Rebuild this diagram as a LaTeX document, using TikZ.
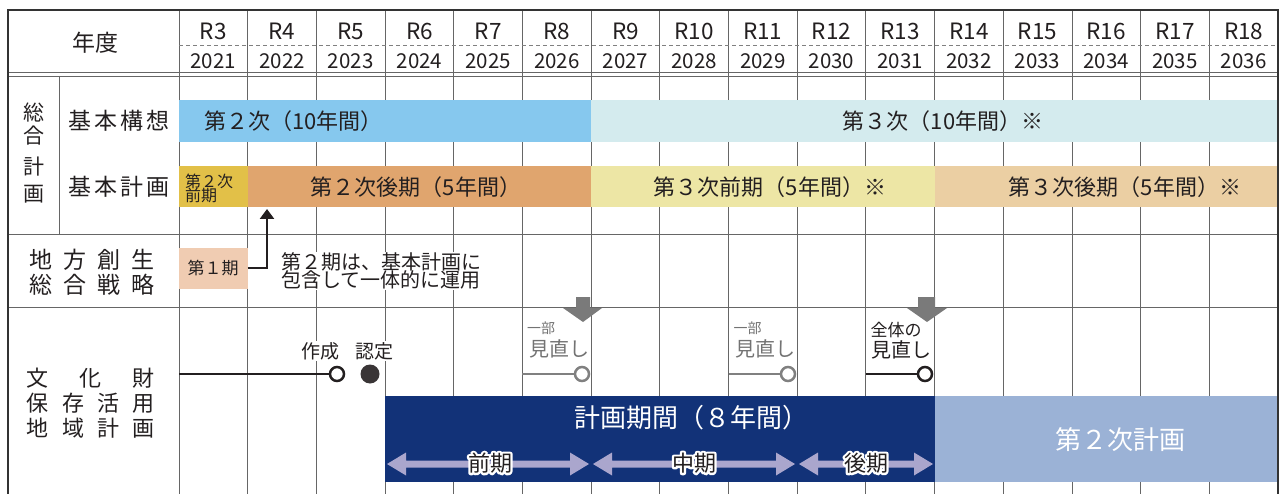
\documentclass[tikz,border=0pt]{standalone}
\usepackage{fontspec}
\setmainfont{Noto Sans CJK JP}
\usetikzlibrary{arrows.meta,calc}
\newcommand\fsz[1]{\fontsize{#1}{#1}\selectfont}
\definecolor{kihonA}{HTML}{86C8EE}
\definecolor{kihonB}{HTML}{D4EBEE}
\definecolor{keiA}{HTML}{E2C048}
\definecolor{keiB}{HTML}{E0A56E}
\definecolor{keiC}{HTML}{EDE6A5}
\definecolor{keiD}{HTML}{EBCFA3}
\definecolor{chihou}{HTML}{F0CCB2}
\definecolor{navy}{HTML}{123278}
\definecolor{nextplan}{HTML}{9BB2D6}
\definecolor{lav}{HTML}{AAA6CD}
\definecolor{txt}{HTML}{231F20}
\newcommand\dblarrow[3]{\fill[lav] (#1,#3) -- ({#1+19},{#3-11.5}) -- ({#1+19},{#3-3.5}) -- ({#2-19},{#3-3.5}) -- ({#2-19},{#3-11.5}) -- (#2,#3) -- ({#2-19},{#3+11.5}) -- ({#2-19},{#3+3.5}) -- ({#1+19},{#3+3.5}) -- ({#1+19},{#3+11.5}) -- cycle;}
\newcommand\halo[1]{\rlap{\special{pdf:literal direct 1 Tr 4.5 w 1 1 1 RG 1 j}#1\special{pdf:literal direct 0 Tr}}#1}
\begin{document}
\begin{tikzpicture}[x=1pt,y=-1pt,
  gridline/.style={draw=black!60, line width=0.9pt},
  lbl/.style={inner sep=0pt, text=txt},
  opencirc/.style={circle, draw=txt, line width=2.5pt, fill=white, minimum size=14pt, inner sep=0pt},
  downarr/.style={fill=black!52},
]
\useasboundingbox (0,0) rectangle (1281,494);
\fill[white] (0,0) rectangle (1281,494);
% grid
\foreach \i in {0,...,15} \draw[gridline] ({179+\i*68.6875},10) -- ({179+\i*68.6875},494);
\draw[gridline] (59,76) -- (59,234);
\draw[gridline, draw=black!50, dash pattern=on 4pt off 3pt] (179,45) -- (1278,45);
\draw[gridline] (8,72) -- (1278,72);
\draw[gridline] (8,76) -- (1278,76);
\draw[gridline] (8,234) -- (1278,234);
\draw[gridline] (8,307) -- (1278,307);
% header labels
\node[lbl, font=\fsz{23}] (nendo) at (95,43) {年度};
\foreach \r [count=\i from 0] in {3,...,18} {
  \pgfmathtruncatemacro\yr{2021+\i}
  \node[lbl, font=\fsz{22.5}] (r\r) at ({179+(\i+0.5)*68.6875},31) {R\r};
  \node[lbl, font=\fsz{20.5}] (y\r) at ({179+(\i+0.5)*68.6875},61) {\yr};
}
% left labels
\node[lbl, font=\fsz{21}] (s1) at (34,113) {総};
\node[lbl, font=\fsz{21}] (s2) at (34,136) {合};
\node[lbl, font=\fsz{21}] (s3) at (34,167) {計};
\node[lbl, font=\fsz{21}] (s4) at (34,194) {画};
\node[lbl, font=\fsz{23}] (kk) at (119,121) {\makebox[102pt][s]{基\hfill 本\hfill 構\hfill 想}};
\node[lbl, font=\fsz{23}] (kkk) at (119,187) {\makebox[102pt][s]{基\hfill 本\hfill 計\hfill 画}};
\node[lbl, font=\fsz{23}] (ch1) at (92,260) {\makebox[125pt][s]{地\hfill 方\hfill 創\hfill 生}};
\node[lbl, font=\fsz{23}] (ch2) at (92,285) {\makebox[125pt][s]{総\hfill 合\hfill 戦\hfill 略}};
\node[lbl, font=\fsz{22}] (bk1) at (91,378) {\makebox[128pt][s]{文\hfill 化\hfill 財}};
\node[lbl, font=\fsz{22}] (bk2) at (91,403) {\makebox[128pt][s]{保\hfill 存\hfill 活\hfill 用}};
\node[lbl, font=\fsz{22}] (bk3) at (91,428) {\makebox[128pt][s]{地\hfill 域\hfill 計\hfill 画}};
% bars 総合計画
\fill[kihonA] (179,100) rectangle (591.13,142);
\fill[kihonB] (591.13,100) rectangle (1278,142);
\fill[keiA] (179,166) rectangle (247.69,207);
\fill[keiB] (247.69,166) rectangle (591.13,207);
\fill[keiC] (591.13,166) rectangle (934.56,207);
\fill[keiD] (934.56,166) rectangle (1278,207);
\node[lbl, font=\fsz{22}, anchor=west] (b1) at (204,121) {第２次（10年間）};
\node[lbl, font=\fsz{22}] (b2) at (943,121) {第３次（10年間）※};
\node[lbl, font=\fsz{16}, anchor=west, align=left] (b3) at (185,188) {第２次\\[-2pt]前期};
\node[lbl, font=\fsz{22}] (b4) at (416,187) {第２次後期（5年間）};
\node[lbl, font=\fsz{22}] (b5) at (770,187) {第３次前期（5年間）※};
\node[lbl, font=\fsz{22}] (b6) at (1125,187) {第３次後期（5年間）※};
% 地方創生
\fill[chihou] (179,248) rectangle (247.69,289);
\node[lbl, font=\fsz{17}] (ki1) at (213,268) {第１期};
\node[lbl, font=\fsz{20}, anchor=west, align=left, fill=white, inner sep=1pt] (note) at (280,271) {第２期は、基本計画に\\[-2pt]包含して一体的に運用};
\coordinate (ar0) at (247.69,268);
\coordinate (ar1) at (267,268);
\coordinate (ar2) at (267,209);
\draw[line width=2.8pt, txt, -{Triangle[length=10pt,width=14pt]}] (ar0) -- (ar1) -- (ar2);
% 文化財
\fill[navy] (385.06,396) rectangle (934.56,482);
\fill[nextplan] (934.56,396) rectangle (1278,482);
\node[lbl, font=\fsz{26}, text=white] (kk8) at (691,418) {計画期間（８年間）};
\node[lbl, font=\fsz{26}, text=white] (n2) at (1120,440) {第２次計画};
\dblarrow{387}{589}{464}
\dblarrow{593}{795}{464}
\dblarrow{799}{933}{464}
\node[lbl, font=\fsz{22}] (zk) at (490,463) {\halo{前期}};
\node[lbl, font=\fsz{22}] (ck) at (694,463) {\halo{中期}};
\node[lbl, font=\fsz{22}] (kk2) at (866,463) {\halo{後期}};
% milestones
\node[lbl, font=\fsz{19}, fill=white, inner sep=1pt] (sak) at (320,351) {作成};
\node[lbl, font=\fsz{19}, fill=white, inner sep=1pt] (nin) at (374,351) {認定};
\coordinate (st1) at (179,374);
\node[opencirc] (oc1) at (337,374) {};
\draw[line width=2.6pt, txt] (st1) -- (oc1);
\node[circle, fill=txt!90, minimum size=19pt, inner sep=0pt] (fc1) at (370,374) {};
% partial review R8
\fill[downarr] (576,297) -- (590,297) -- (590,308) -- (602,308) -- (583,322) -- (563,308) -- (576,308) -- cycle;
\node[lbl, font=\fsz{14}, text=black!55] (ib1) at (541,328) {一部};
\node[lbl, font=\fsz{20}, text=black!55] (mn1) at (559,349) {見直し};
\coordinate (st2) at (522.44,374);
\node[opencirc, draw=black!50] (oc2) at (582,374) {};
\draw[line width=2.4pt, black!50] (st2) -- (oc2);
% partial review R11
\node[lbl, font=\fsz{14}, text=black!55] (ib2) at (747.5,328) {一部};
\node[lbl, font=\fsz{20}, text=black!55] (mn2) at (765,349) {見直し};
\coordinate (st3) at (728.5,374);
\node[opencirc, draw=black!50] (oc3) at (788,374) {};
\draw[line width=2.4pt, black!50] (st3) -- (oc3);
% full review R13
\fill[downarr] (918,297) -- (935,297) -- (935,308) -- (947,308) -- (927,322) -- (907,308) -- (918,308) -- cycle;
\node[lbl, font=\fsz{17}] (zt) at (896,330) {全体の};
\node[lbl, font=\fsz{20}] (mn3) at (901,350) {見直し};
\coordinate (st4) at (865.88,374);
\node[opencirc] (oc4) at (925,374) {};
\draw[line width=2.6pt, txt] (st4) -- (oc4);
% frame
\draw[line width=2.5pt, draw=black!80] (8,494) -- (8,10) -- (1278,10) -- (1278,494);
\end{tikzpicture}
\end{document}
